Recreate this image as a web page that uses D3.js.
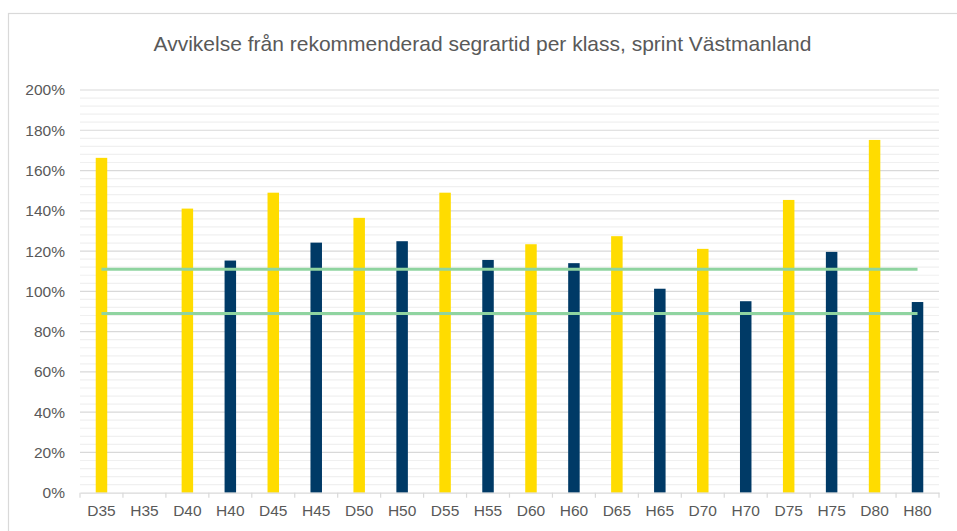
<!DOCTYPE html>
<html>
<head>
<meta charset="utf-8">
<script src="https://cdn.jsdelivr.net/npm/d3@7"></script>
<style>
body { margin: 0; background: #fff; }
svg text { font-family: "Liberation Sans", Arial, sans-serif; fill: #595959; }
</style>
</head>
<body>
<svg id="chart" width="957" height="531"></svg>
<script>
// classes and deviation (% of recommended winning time)
var klasser = ["D35","H35","D40","H40","D45","H45","D50","H50","D55","H55","D60","H60","D65","H65","D70","H70","D75","H75","D80","H80"];
var avvikelse = [166.3, null, 141.1, 115.3, 149, 124.2, 136.5, 124.9, 149, 115.6, 123.4, 114, 127.4, 101.3, 121.1, 95.1, 145.4, 119.6, 175.2, 94.7];
var gransVarden = [111, 89];
var yTicks = [0, 20, 40, 60, 80, 100, 120, 140, 160, 180, 200];
var titel = "Avvikelse från rekommenderad segrartid per klass, sprint Västmanland";

var svg = d3.select("#chart");
var plotLeft = 80, plotRight = 939, plotTop = 90, plotBottom = 492.7;

// chart frame
svg.append("rect").attr("x", 8.5).attr("y", 13.5).attr("width", 970).attr("height", 540)
	.attr("fill", "none").attr("stroke", "#d9d9d9").attr("stroke-width", 1.2);

svg.append("text").attr("x", 482.5).attr("y", 50.5).attr("text-anchor", "middle")
	.style("font-size", "21px").text(titel);

var x = d3.scaleBand().domain(klasser).range([plotLeft, plotRight]);
var y = d3.scaleLinear().domain([0, 200]).range([plotBottom, plotTop]);

// minor grid every 4%
svg.append("g").selectAll("line").data(d3.range(0, 201, 4).filter(function(d){ return d % 20 != 0; }))
	.enter().append("line")
	.attr("x1", plotLeft).attr("x2", plotRight)
	.attr("y1", function(d){ return y(d); }).attr("y2", function(d){ return y(d); })
	.attr("stroke", "#f0f0f0").attr("stroke-width", 1.2);

// major grid
svg.append("g").selectAll("line").data(yTicks.slice(1))
	.enter().append("line")
	.attr("x1", plotLeft).attr("x2", plotRight)
	.attr("y1", function(d){ return y(d); }).attr("y2", function(d){ return y(d); })
	.attr("stroke", "#d9d9d9").attr("stroke-width", 1.2);

// y labels
var yAxis = d3.axisLeft(y).tickValues(yTicks).tickFormat(function(d){ return d + "%"; }).tickSize(0).tickPadding(15);
var gy = svg.append("g").attr("transform", "translate(" + plotLeft + ",0)").call(yAxis);
gy.select(".domain").remove();
gy.selectAll("text").style("font-size", "15.5px").style("fill", "#595959").style("font-family", "Liberation Sans, Arial, sans-serif");

// bars
var bw = 11.5;
svg.append("g").selectAll("rect").data(klasser)
	.enter().append("rect")
	.filter(function(d, i){ return avvikelse[i] != null; })
	.attr("x", function(d){ return x(d) + x.bandwidth() / 2 - bw / 2; })
	.attr("width", bw)
	.attr("y", function(d){ return y(avvikelse[klasser.indexOf(d)]); })
	.attr("height", function(d){ return plotBottom - y(avvikelse[klasser.indexOf(d)]); })
	.attr("fill", function(d){ return d[0] == "D" ? "#ffdc00" : "#003a66"; });

// x axis
var xAxis = d3.axisBottom(x).tickSize(0).tickPadding(12);
var gx = svg.append("g").attr("transform", "translate(0," + plotBottom + ")").call(xAxis);
gx.select(".domain").attr("stroke", "#d9d9d9").attr("stroke-width", 1.2);
gx.selectAll("text").style("font-size", "15.5px").style("fill", "#595959").style("font-family", "Liberation Sans, Arial, sans-serif");
var bounds = klasser.map(function(d){ return x(d); }).concat([plotRight]);
gx.selectAll(".sep").data(bounds).enter().append("line")
	.attr("x1", function(d){ return d; }).attr("x2", function(d){ return d; })
	.attr("y1", 0).attr("y2", 5).attr("stroke", "#d9d9d9").attr("stroke-width", 1.2);

// limit lines
var xFirst = x(klasser[0]) + x.bandwidth() / 2, xLast = x(klasser[klasser.length - 1]) + x.bandwidth() / 2;
svg.append("g").selectAll("line").data(gransVarden).enter().append("line")
	.attr("x1", xFirst).attr("x2", xLast)
	.attr("y1", function(d){ return y(d); }).attr("y2", function(d){ return y(d); })
	.attr("stroke", "#8fd4a0").attr("stroke-width", 3);
</script>
</body>
</html>
